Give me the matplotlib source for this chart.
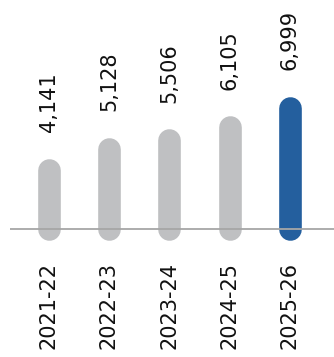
import matplotlib.pyplot as plt
import numpy as np

# fiscal years and totals
years = ["2021-22", "2022-23", "2023-24", "2024-25", "2025-26"]
totals = [4141, 5128, 5506, 6105, 6999]
highlight = "2025-26"

grey = "#bfc0c2"
blue = "#245f9e"

# axis floor sits a bit above zero so the pills keep their look
floor = 1420
ceil = floor + 229 * 46.1

fig = plt.figure(figsize=(3.34, 3.57), dpi=100)
ax = fig.add_axes([0, 128 / 357, 1, 229 / 357])

x = np.arange(len(years))
for xi, name, v in zip(x, years, totals):
    col = blue if name == highlight else grey
    # thick line with round caps gives the rounded bar
    ax.plot([xi, xi], [floor, v], color=col, lw=16.3,
            solid_capstyle="round", clip_on=False, zorder=2)
    ax.annotate("{:,}".format(v), (xi, v), xytext=(0, 27),
                textcoords="offset points", rotation=90,
                ha="center", va="bottom", fontsize=15, color="#111111")

# baseline
ax.hlines(floor, -0.642, 5, color="#a6a6a6", lw=1.3, clip_on=False, zorder=3)

ax.set_xlim(-48.7 / 60.3, (334 - 48.7) / 60.3)
ax.set_ylim(floor, ceil)
ax.set_xticks(x)
ax.set_xticklabels(years, rotation=90, fontsize=15, color="#111111")
ax.tick_params(axis="x", length=0, pad=23.5)
ax.set_yticks([])
for s in ax.spines.values():
    s.set_visible(False)
ax.patch.set_alpha(0)

plt.savefig("out.png", dpi=100)
